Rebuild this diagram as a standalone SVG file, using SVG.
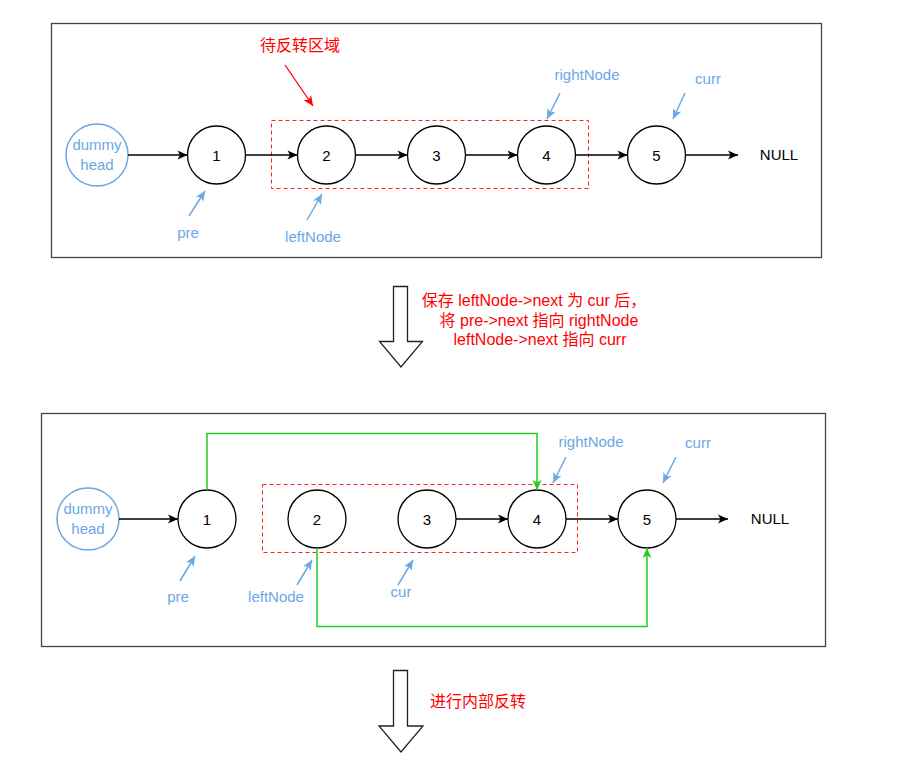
<svg xmlns="http://www.w3.org/2000/svg" width="904" height="764" viewBox="0 0 904 764">
  <defs>
    <style>
      text { font-family: "Liberation Sans", "Noto Sans CJK SC", sans-serif; font-size: 15px; }
      .panel { fill: #ffffff; stroke: #444444; stroke-width: 1.3; }
      .node { fill: #ffffff; stroke: #000000; stroke-width: 1.3; }
      .dummy { fill: #ffffff; stroke: #6aa8e6; stroke-width: 1.5; }
      .zone { fill: none; stroke: #ff2020; stroke-width: 1; stroke-dasharray: 4 3; }
      .num { fill: #000000; text-anchor: middle; dominant-baseline: central; }
      .lbl { fill: #6aa8e6; text-anchor: middle; }
      .red { fill: #ff0000; font-size: 16px; }
      .link { stroke: #000000; stroke-width: 1.3; fill: none; marker-end: url(#ahBlack); }
      .green { stroke: #22cc22; stroke-width: 1.5; fill: none; marker-end: url(#ahGreen); }
      .ptr { stroke: #6aa8e6; stroke-width: 1.5; fill: none; marker-end: url(#ahBlue); }
      .hint { stroke: #ff0000; stroke-width: 1.3; fill: none; marker-end: url(#ahRed); }
      .big { fill: #ffffff; stroke: #222222; stroke-width: 1.3; }
    </style>
    <marker id="ahBlack" markerUnits="userSpaceOnUse" markerWidth="12" markerHeight="10" viewBox="-1 -5 12 10" refX="10" refY="0" orient="auto">
      <path d="M0,-4.5 L10,0 L0,4.5 L2.5,0 Z" fill="#000000"/>
    </marker>
    <marker id="ahGreen" markerUnits="userSpaceOnUse" markerWidth="12" markerHeight="10" viewBox="-1 -5 12 10" refX="10" refY="0" orient="auto">
      <path d="M0,-4.5 L10,0 L0,4.5 L2.5,0 Z" fill="#22cc22"/>
    </marker>
    <marker id="ahBlue" markerUnits="userSpaceOnUse" markerWidth="12" markerHeight="10" viewBox="-1 -5 12 10" refX="10" refY="0" orient="auto">
      <path d="M0,-4.5 L10,0 L0,4.5 L2.5,0 Z" fill="#6aa8e6"/>
    </marker>
    <marker id="ahRed" markerUnits="userSpaceOnUse" markerWidth="12" markerHeight="10" viewBox="-1 -5 12 10" refX="10" refY="0" orient="auto">
      <path d="M0,-4.5 L10,0 L0,4.5 L2.5,0 Z" fill="#ff0000"/>
    </marker>
  </defs>

  <rect width="904" height="764" fill="#ffffff"/>

  <!-- upper frame: list before splitting -->
  <g id="panel-top">
    <rect class="panel" x="51.5" y="23.5" width="770" height="234"/>
    <rect class="zone" x="271.5" y="120.5" width="317" height="68"/>
    <text class="red" x="300" y="51" text-anchor="middle">待反转区域</text>
  </g>

  <g id="t-dummy">
    <circle class="dummy" cx="97" cy="155" r="31"/>
    <text class="lbl" x="97" y="150">dummy</text>
    <text class="lbl" x="97" y="170">head</text>
  </g>
  <g id="t-n1"><circle class="node" cx="216.5" cy="155" r="29"/><text class="num" x="216.5" y="155">1</text></g>
  <g id="t-n2"><circle class="node" cx="326.5" cy="155" r="29"/><text class="num" x="326.5" y="155">2</text></g>
  <g id="t-n3"><circle class="node" cx="436.5" cy="155" r="29"/><text class="num" x="436.5" y="155">3</text></g>
  <g id="t-n4"><circle class="node" cx="546.5" cy="155" r="29"/><text class="num" x="546.5" y="155">4</text></g>
  <g id="t-n5"><circle class="node" cx="656.5" cy="155" r="29"/><text class="num" x="656.5" y="155">5</text></g>
  <g id="t-null"><text x="779" y="160" text-anchor="middle">NULL</text></g>

  <g id="t-labels">
    <text class="lbl" x="188" y="238">pre</text>
    <text class="lbl" x="313" y="242">leftNode</text>
    <text class="lbl" x="587" y="80">rightNode</text>
    <text class="lbl" x="708" y="84">curr</text>
  </g>

  <g id="connectors-top">
    <line class="link" x1="128" y1="155" x2="187.5" y2="155"/>
    <line class="link" x1="245.5" y1="155" x2="297.5" y2="155"/>
    <line class="link" x1="355.5" y1="155" x2="407.5" y2="155"/>
    <line class="link" x1="465.5" y1="155" x2="517.5" y2="155"/>
    <line class="link" x1="575.5" y1="155" x2="627.5" y2="155"/>
    <line class="link" x1="685.5" y1="155" x2="738" y2="155"/>
    <line class="hint" x1="285" y1="65" x2="313" y2="106"/>
    <line class="ptr" x1="189" y1="216" x2="205" y2="191"/>
    <line class="ptr" x1="307" y1="220" x2="322" y2="194"/>
    <line class="ptr" x1="560" y1="93" x2="547" y2="119"/>
    <line class="ptr" x1="685" y1="93" x2="673" y2="119"/>
  </g>

  <!-- step arrow with explanation -->
  <g id="step-1">
    <path class="big" d="M393.5,286.5 H407.5 V341.5 H422.5 L401,367 L379.5,341.5 H393.5 Z"/>
    <text class="red" x="534" y="306" text-anchor="middle">保存 leftNode-&gt;next 为 cur 后，</text>
    <text class="red" x="539" y="326" text-anchor="middle">将 pre-&gt;next 指向 rightNode</text>
    <text class="red" x="540" y="345" text-anchor="middle">leftNode-&gt;next 指向 curr</text>
  </g>

  <!-- lower frame: after relinking -->
  <g id="panel-bottom">
    <rect class="panel" x="41.5" y="413.5" width="784" height="233"/>
    <rect class="zone" x="262.5" y="484.5" width="315" height="68"/>
  </g>

  <g id="b-dummy">
    <circle class="dummy" cx="88" cy="519" r="31"/>
    <text class="lbl" x="88" y="514">dummy</text>
    <text class="lbl" x="88" y="534">head</text>
  </g>
  <g id="b-n1"><circle class="node" cx="207" cy="519" r="29"/><text class="num" x="207" y="519">1</text></g>
  <g id="b-n2"><circle class="node" cx="317" cy="519" r="29"/><text class="num" x="317" y="519">2</text></g>
  <g id="b-n3"><circle class="node" cx="427" cy="519" r="29"/><text class="num" x="427" y="519">3</text></g>
  <g id="b-n4"><circle class="node" cx="537" cy="519" r="29"/><text class="num" x="537" y="519">4</text></g>
  <g id="b-n5"><circle class="node" cx="647" cy="519" r="29"/><text class="num" x="647" y="519">5</text></g>
  <g id="b-null"><text x="770" y="524" text-anchor="middle">NULL</text></g>

  <g id="b-labels">
    <text class="lbl" x="178" y="602">pre</text>
    <text class="lbl" x="276" y="602">leftNode</text>
    <text class="lbl" x="401" y="597">cur</text>
    <text class="lbl" x="591" y="447">rightNode</text>
    <text class="lbl" x="698" y="448">curr</text>
  </g>

  <g id="connectors-bottom">
    <line class="link" x1="119" y1="519" x2="178" y2="519"/>
    <line class="link" x1="456" y1="519" x2="508" y2="519"/>
    <line class="link" x1="566" y1="519" x2="618" y2="519"/>
    <line class="link" x1="676" y1="519" x2="728" y2="519"/>
    <path class="green" d="M207,490 V433.5 H537 V490"/>
    <path class="green" d="M317,548 V626.5 H647 V548"/>
    <line class="ptr" x1="180" y1="581" x2="195" y2="556"/>
    <line class="ptr" x1="297" y1="585" x2="312" y2="560"/>
    <line class="ptr" x1="398" y1="585" x2="413" y2="560"/>
    <line class="ptr" x1="566" y1="457" x2="553" y2="483"/>
    <line class="ptr" x1="676" y1="457" x2="663" y2="483"/>
  </g>

  <g id="step-2">
    <path class="big" d="M393.5,670.5 H407.5 V726 H423 L401,752 L379,726 H393.5 Z"/>
    <text class="red" x="430" y="707">进行内部反转</text>
  </g>
</svg>
